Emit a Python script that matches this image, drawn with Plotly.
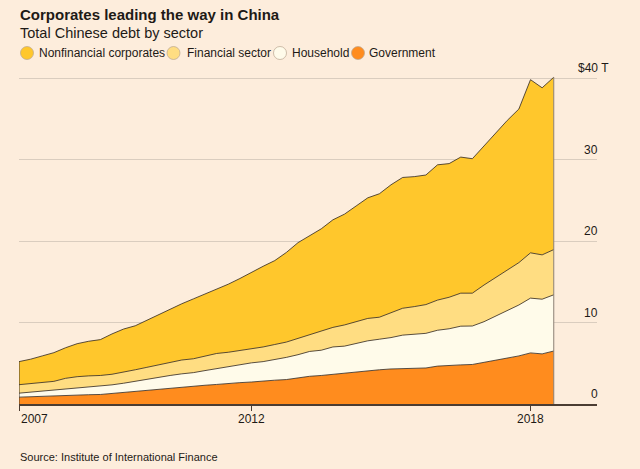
'''
Total Chinese debt by sector, quarterly, stacked areas
'''

import plotly.graph_objects as go

# quarters from 2007 to mid-2018, as decimal years
quarters = [2007 + 0.25 * i for i in range(47)]

# $ trillions
government = [0.84, 0.90, 0.97, 1.02, 1.07, 1.10, 1.14, 1.17, 1.30, 1.45,
              1.58, 1.70, 1.85, 1.98, 2.05, 2.15, 2.30, 2.40, 2.55, 2.62,
              2.70, 2.85, 2.92, 3.00, 3.20, 3.40, 3.50, 3.65, 3.80, 3.95,
              4.10, 4.20, 4.30, 4.35, 4.38, 4.42, 4.65, 4.75, 4.80, 4.85,
              5.10, 5.40, 5.65, 5.90, 6.27, 6.15, 6.50]
household = [0.49, 0.55, 0.63, 0.73, 0.78, 0.85, 0.91, 0.98, 1.05, 1.10,
             1.22, 1.30, 1.40, 1.52, 1.65, 1.70, 1.80, 1.95, 2.05, 2.23,
             2.35, 2.35, 2.53, 2.72, 2.85, 3.05, 3.10, 3.35, 3.30, 3.50,
             3.65, 3.75, 3.85, 4.10, 4.17, 4.25, 4.40, 4.48, 4.75, 4.72,
             5.00, 5.40, 5.85, 6.25, 6.72, 6.71, 6.90]
financial = [1.04, 1.05, 1.05, 1.03, 1.30, 1.40, 1.40, 1.35, 1.30, 1.35,
             1.40, 1.50, 1.55, 1.65, 1.70, 1.70, 1.75, 1.85, 1.75, 1.70,
             1.75, 1.80, 1.85, 1.88, 2.00, 2.05, 2.30, 2.40, 2.60, 2.65,
             2.75, 2.70, 3.05, 3.30, 3.40, 3.53, 3.70, 3.87, 4.05, 4.03,
             4.50, 4.75, 4.90, 5.20, 5.56, 5.44, 5.55]
nonfinancial = [2.83, 3.00, 3.25, 3.52, 3.75, 4.05, 4.25, 4.40, 4.95, 5.30,
                5.40, 5.80, 6.10, 6.45, 6.90, 7.35, 7.65, 7.90, 8.35, 8.85,
                9.40, 9.90, 10.30, 11.00, 11.75, 12.10, 12.60, 13.20, 13.60, 14.20,
                14.80, 15.15, 15.70, 16.05, 15.95, 15.90, 16.60, 16.40, 16.70, 16.50,
                17.10, 17.65, 18.40, 18.85, 21.25, 20.50, 21.15]

sectors = ['Nonfinancial corporates', 'Financial sector', 'Household', 'Government']
colors = {'Nonfinancial corporates': '#ffc72c',
          'Financial sector': '#ffdd82',
          'Household': '#fffbea',
          'Government': '#ff8c1e'}

x_ticks = [2007, 2012, 2018]
y_ticks = [0, 10, 20, 30, 40]

BG = '#fdeddc'
INK = '#1e1a16'
FONT = 'Liberation Sans'

# plot box in pixels, used to place the text around it
L, R, T, B = 19, 597, 76, 404
W, H = R - L, B - T

def fx(px):
    return (px - L) / W

def fy(py):
    return (B - py) / H


fig = go.Figure()

series = {'Government': government, 'Household': household,
          'Financial sector': financial, 'Nonfinancial corporates': nonfinancial}
for name in ['Government', 'Household', 'Financial sector', 'Nonfinancial corporates']:
    fig.add_trace(go.Scatter(x=quarters, y=series[name], name=name,
                             stackgroup='debt', mode='lines',
                             line=dict(color='#2e2620', width=0.8),
                             fillcolor=colors[name],
                             hoverinfo='skip', showlegend=False))

# vertical edges of the stack
total = [a + b + c + d for a, b, c, d in zip(government, household, financial, nonfinancial)]
fig.add_trace(go.Scatter(x=[quarters[0], quarters[0]], y=[0, total[0]], mode='lines',
                         line=dict(color='#3a3028', width=1), hoverinfo='skip', showlegend=False))
fig.add_trace(go.Scatter(x=[quarters[-1], quarters[-1]], y=[0, total[-1]], mode='lines',
                         line=dict(color='#8c8074', width=1), hoverinfo='skip', showlegend=False))

ann = []
shapes = []

#### title block
ann.append(dict(text='<b>Corporates leading the way in China</b>', x=fx(18), y=fy(15),
                xanchor='left', yanchor='middle', font=dict(size=15, color=INK)))
ann.append(dict(text='Total Chinese debt by sector', x=fx(18), y=fy(33),
                xanchor='left', yanchor='middle', font=dict(size=14.5, color=INK)))

#### legend: circles + labels
legend_pos = [(27, 36.7), (173.5, 184.5), (280, 289.5), (358, 367.3)]
for name, (cx, tx) in zip(sectors, legend_pos):
    r = 6.5
    shapes.append(dict(type='circle', xref='paper', yref='paper',
                       x0=fx(cx - r), x1=fx(cx + r), y0=fy(53 + r), y1=fy(53 - r),
                       fillcolor=colors[name], line=dict(color='#b9a58f', width=0.7)))
    ann.append(dict(text=name, x=fx(tx), y=fy(53), xanchor='left', yanchor='middle',
                    font=dict(size=12, color=INK)))

#### y labels sitting on the grid lines
for v in y_ticks:
    label = f'${v} T' if v == y_ticks[-1] else str(v)
    ann.append(dict(text=label, xref='paper', yref='y', x=fx(600), y=v,
                    xanchor='right', yanchor='bottom', yshift=1,
                    xshift=11 if v == y_ticks[-1] else 0,
                    font=dict(size=12, color=INK)))

#### x labels
for i, yr in enumerate(x_ticks):
    ann.append(dict(text=str(yr), xref='x', yref='paper', x=yr, y=fy(419),
                    xanchor='left' if i == 0 else 'center', yanchor='middle',
                    font=dict(size=12, color=INK)))

ann.append(dict(text='Source: Institute of International Finance', x=fx(18), y=fy(457),
                xanchor='left', yanchor='middle', font=dict(size=11, color=INK)))

for a in ann:
    a.setdefault('xref', 'paper')
    a.setdefault('yref', 'paper')
    a['showarrow'] = False

fig.update_layout(
    width=640, height=469,
    margin=dict(l=L, r=640 - R, t=T, b=469 - B),
    paper_bgcolor=BG, plot_bgcolor=BG,
    font=dict(family=FONT, color=INK),
    annotations=ann, shapes=shapes,
    showlegend=False,
)
fig.update_xaxes(range=[2007, 2019.43], tickvals=x_ticks, showticklabels=False,
                 ticks='outside', ticklen=5, tickcolor='#4b3d33', tickwidth=1,
                 showline=True, linecolor='#4b3d33', linewidth=1.5,
                 showgrid=False, zeroline=False, fixedrange=True)
fig.update_yaxes(range=[0, 40.25], tickvals=y_ticks[1:], showticklabels=False,
                 showgrid=True, gridcolor='#dacdbf', gridwidth=1,
                 zeroline=False, fixedrange=True)

# the page's default 8px body margin would push the figure out of the window
fig.write_html('out.html', config={'displayModeBar': False},
               post_script="document.body.style.margin='0';")
